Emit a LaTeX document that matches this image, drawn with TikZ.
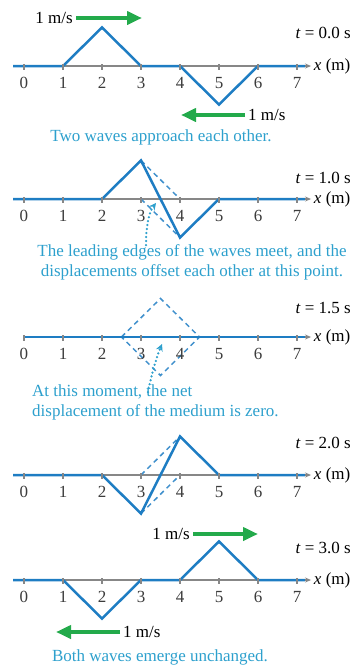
\documentclass[tikz,border=0pt]{standalone}
\usepackage{fontspec}
\setmainfont{Liberation Serif}
\usetikzlibrary{arrows.meta}
\definecolor{wave}{RGB}{30,125,195}
\definecolor{cap}{RGB}{45,160,205}
\definecolor{grn}{RGB}{35,170,75}
\definecolor{axg}{RGB}{135,135,135}
\definecolor{lab}{RGB}{60,60,60}
\tikzset{
 wv/.style={draw=wave, line width=2.5pt, line join=miter},
 dsh/.style={draw=wave!85, line width=1.5pt, dash pattern=on 5pt off 4pt},
 axisl/.style={draw=axg, line width=2pt, -{Stealth[length=6pt,width=5pt]}},
 tk/.style={draw=axg, line width=1.3pt},
 num/.style={text=lab, inner sep=0, font=\fontsize{17}{20}\selectfont},
 txt/.style={inner sep=0, font=\fontsize{17}{20}\selectfont},
 captxt/.style={text=cap, inner sep=0, font=\fontsize{17}{20}\selectfont},
 garr/.style={draw=grn, line width=4pt, -{Triangle[length=15pt,width=13pt]}},
 dotarr/.style={draw=cap, line width=2.5pt, dash pattern=on 0pt off 4pt, line cap=round, -{Stealth[length=7pt,width=7pt]}},
}
\newcommand\myaxis[2]{% #1 id, #2 start
 \draw[axisl] (#2,0) -- (7.36,0);
}
\newcommand\myticks[1]{%
 \foreach \i in {0,...,7} {
  \draw[tk] (\i,0.04) -- (\i,-0.11);
  \node[num] (n#1-\i) at (\i,-0.44) {\i};
 }
 \node[txt, anchor=west] (xl#1) at (7.43,0) {\textit{x} (m)};
}
\begin{document}
\begin{tikzpicture}[x=1pt,y=-1pt]
\useasboundingbox (0,0) rectangle (353,665);

% ---------- panel 1 ----------
\begin{scope}[shift={(24,66)},x=39pt,y=38.5pt]
 \myaxis{1}{-0.28}
 \draw[wv] (-0.28,0) -- (1,0) -- (2,1) -- (3,0) -- (4,0) -- (5,-1) -- (6,0) -- (7.2,0);
 \myticks{1}
\end{scope}
\node[txt, anchor=east] (t1) at (351,33) {\textit{t} = 0.0 s};
\coordinate (g1a) at (76,18); \coordinate (g1b) at (142,18);
\draw[garr] (g1a) -- (g1b);
\node[txt, anchor=east] (v1) at (73,18) {1 m/s};
\coordinate (g2a) at (245,115); \coordinate (g2b) at (181,115);
\draw[garr] (g2a) -- (g2b);
\node[txt, anchor=west] (v2) at (248,115) {1 m/s};
\node[captxt] (c1) at (161,137) {Two waves approach each other.};

% ---------- panel 2 ----------
\begin{scope}[shift={(24,199)},x=39pt,y=38.5pt]
 \myaxis{2}{-0.28}
 \draw[dsh] (3,1) -- (4,0);
 \draw[dsh] (3,0) -- (4,-1);
 \draw[wv] (-0.28,0) -- (2,0) -- (3,1) -- (4,-1) -- (5,0) -- (7.2,0);
 \myticks{2}
\end{scope}
\node[txt, anchor=east] (t2) at (351,178) {\textit{t} = 1.0 s};
\node[captxt, align=center] (c2) at (192,262) {The leading edges of the waves meet, and the\\displacements offset each other at this point.};
\coordinate (d2s) at (146,245); \coordinate (d2t) at (156,203);
\draw[dotarr] (d2s) .. controls (146,226) and (149,212) .. (d2t);

% ---------- panel 3 ----------
\begin{scope}[shift={(24,337)},x=39pt,y=38.5pt]
 \myaxis{3}{0}
 \draw[dsh] (2.5,0) -- (3.5,1) -- (4.5,0) -- (3.5,-1) -- cycle;
 \draw[wv] (0,0) -- (7.2,0);
 \myticks{3}
\end{scope}
\node[txt, anchor=east] (t3) at (351,308) {\textit{t} = 1.5 s};
\node[captxt, align=left, anchor=west] (c3) at (32,402.5) {At this moment, the net\\displacement of the medium is zero.};
\coordinate (d3s) at (148,392); \coordinate (d3t) at (162,344);
\draw[dotarr] (d3s) .. controls (152,372) and (157,356) .. (d3t);

% ---------- panel 4 ----------
\begin{scope}[shift={(24,475)},x=39pt,y=38.5pt]
 \myaxis{4}{-0.28}
 \draw[dsh] (3,0) -- (4,1);
 \draw[dsh] (3,-1) -- (4,0);
 \draw[wv] (-0.28,0) -- (2,0) -- (3,-1) -- (4,1) -- (5,0) -- (7.2,0);
 \myticks{4}
\end{scope}
\node[txt, anchor=east] (t4) at (351,443) {\textit{t} = 2.0 s};

% ---------- panel 5 ----------
\begin{scope}[shift={(24,580)},x=39pt,y=38.5pt]
 \myaxis{5}{-0.28}
 \draw[wv] (-0.28,0) -- (1,0) -- (2,-1) -- (3,0) -- (4,0) -- (5,1) -- (6,0) -- (7.2,0);
 \myticks{5}
\end{scope}
\node[txt, anchor=east] (t5) at (351,548) {\textit{t} = 3.0 s};
\coordinate (g3a) at (193,534); \coordinate (g3b) at (258,534);
\draw[garr] (g3a) -- (g3b);
\node[txt, anchor=east] (v3) at (190,534) {1 m/s};
\coordinate (g4a) at (120,632); \coordinate (g4b) at (56,632);
\draw[garr] (g4a) -- (g4b);
\node[txt, anchor=west] (v4) at (123,632) {1 m/s};
\node[captxt] (c4) at (160,657) {Both waves emerge unchanged.};
\end{tikzpicture}
\end{document}
